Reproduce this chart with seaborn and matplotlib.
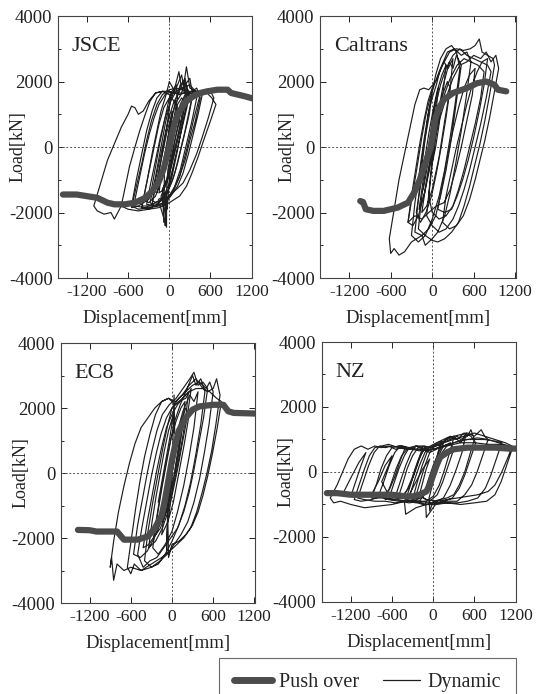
import matplotlib
matplotlib.use("Agg")
import matplotlib.pyplot as plt
import seaborn as sns
import pandas as pd
from matplotlib.lines import Line2D

sns.set_style("ticks")
plt.rcParams['font.family'] = ['Liberation Serif', 'DejaVu Serif']
plt.rcParams['axes.unicode_minus'] = False

panels = ["JSCE", "Caltrans", "EC8", "NZ"]
x_ticks = [-1200, -600, 0, 600, 1200]
y_ticks = [-4000, -2000, 0, 2000, 4000]

# ---------------- push-over curves ----------------
jsce_push = [(-1550,-1450),(-1350,-1450),(-1200,-1500),(-1050,-1550),(-900,-1700),(-800,-1750),
             (-650,-1750),(-500,-1700),(-350,-1550),(-250,-1350),(-150,-1050),(-80,-650),(-20,-150),
             (30,300),(80,750),(150,1100),(250,1400),(350,1550),(450,1650),(550,1700),(700,1750),
             (850,1750),(900,1650),(1000,1600),(1100,1550),(1220,1480)]
caltrans_push = [(-1040,-1650),(-1000,-1680),(-960,-1900),(-850,-1950),(-700,-1950),(-500,-1850),
                 (-350,-1700),(-250,-1350),(-180,-1000),(-100,-500),(-20,0),(50,900),(100,1200),
                 (170,1450),(300,1650),(500,1800),(650,1950),(780,2000),(900,1900),(950,1750),(1070,1700)]
ec8_push = [(-1370,-1750),(-1200,-1760),(-1100,-1800),(-800,-1800),(-700,-2050),(-500,-2050),
            (-350,-1950),(-250,-1700),(-150,-1300),(-100,-800),(-50,-200),(0,400),(50,900),(100,1300),
            (200,1700),(300,1950),(400,2050),(600,2100),(750,2100),(820,1900),(900,1850),(1220,1830)]
nz_push = [(-1550,-650),(-1400,-650),(-1200,-700),(-1000,-700),(-800,-700),(-600,-700),(-400,-750),
           (-300,-750),(-200,-700),(-100,-600),(-50,-400),(0,-100),(50,200),(100,450),(200,600),
           (300,700),(500,750),(700,750),(900,750),(1100,720),(1210,720)]

# ---------------- dynamic hysteresis traces ----------------
jsce_dyn_a = [(0,0),(60,700),(120,1300),(180,1500),(220,1400),(150,600),(60,-300),(-20,-1000),(-80,-1300),
    (-150,-1400),(-100,-600),(-30,200),(40,900),(100,1500),(160,1900),(200,1700),(260,1800),(300,1600),
    (200,700),(100,-200),(0,-1100),(-100,-1600),(-200,-1800),(-280,-1700),(-200,-900),(-120,0),(-50,800),
    (20,1400),(80,1800),(140,2300),(170,1900),(230,2100),(280,1600),(200,800),(120,-100),(40,-900),
    (-40,-1500),(-60,-2400),(-50,-1400),(-150,-1700),(-300,-1900),(-400,-1850),(-320,-1000),(-250,-200),
    (-180,500),(-120,1100),(-60,1500),(-10,1900),(0,2000),(80,1700),(200,1800),(300,1900),(380,1700),
    (450,1600),(350,800),(250,-100),(150,-900),(50,-1400),(-50,-1700),(-150,-1800),(-300,-1850),
    (-450,-1900),(-550,-1800),(-480,-1000),(-400,-200),(-330,500),(-250,1100),(-180,1500),(-100,1700),
    (0,1700),(150,1600),(300,1700),(450,1700),(550,1650),(620,1500),(680,1300),(600,800),(500,200),
    (420,-300),(330,-800),(250,-1200),(150,-1500),(0,-1700),(-150,-1850),(-300,-1900),(-450,-1950),
    (-600,-1900),(-700,-1800),(-640,-1200),(-580,-600),(-500,0),(-430,500),(-350,1000),(-280,1400),
    (-200,1650),(-100,1700),(100,1650),(250,1650),(400,1650),(500,1700),(600,1700),(650,1500),(570,900),
    (480,300),(400,-200),(300,-700),(200,-1100),(100,-1300),(0,-1500),(-100,-1600),(-200,-1700),
    (-350,-1850),(-500,-1800),(-600,-1700),(-700,-1800),(-800,-2200),(-850,-2000),(-950,-2050),
    (-1050,-1950),(-1100,-1800),(-1000,-1100),(-900,-400),(-820,0),(-700,600),(-600,1000),(-550,1250),
    (-500,1200),(-450,1000),(-380,1100),(-300,1400),(-200,1650),(-100,1700),(0,1600),(100,1300),
    (150,800),(80,200),(20,-400),(-40,-1000),(-100,-1300),(-80,-2300),(-70,-700),(-30,0),(0,600),
    (40,1100),(20,300),(0,0)]
jsce_dyn_b = [(0,0),(-100,-900),(-200,-1500),(-300,-1700),(-380,-1600),(-300,-800),(-220,0),(-150,700),
    (-80,1200),(0,1500),(100,1800),(180,2200),(220,1700),(300,1500),(350,1700),(280,900),(200,200),
    (120,-500),(50,-1000),(-30,-1400),(-120,-1600),(-250,-1750),(-200,-1000),(-130,-300),(-60,400),
    (10,1000),(70,1400),(130,1600),(200,2000),(250,1600),(180,700),(100,0),(30,-600),(-40,-1100),
    (-120,-1500),(-60,-2000),(-20,-700),(40,0),(100,700),(160,1300),(230,1600),(320,1650),(400,1500),
    (320,700),(240,0),(160,-700),(80,-1200),(0,-1500),(-90,-1700),(-180,-1800),(-380,-1800),(-500,-1600),
    (-430,-900),(-360,-200),(-290,400),(-220,900),(-150,1300),(-60,1600),(40,1700),(100,1900),(120,1500),
    (60,800),(0,200),(-60,-400),(-120,-1000),(-180,-1400),(-260,-1300),(-200,-600),(-140,100),
    (-80,700),(-20,1300),(30,1700),(-10,1000),(-60,300),(-110,-300),(-160,-900)]
jsce_dyn_c = [(0,0),(-150,-1000),(-300,-1600),(-450,-1800),(-550,-1850),(-480,-1200),(-400,-500),
    (-330,200),(-260,800),(-180,1300),(-100,1600),(0,1750),(100,1800),(200,1750),(250,2450),(300,1800),
    (400,1700),(480,1600),(420,1000),(350,400),(280,-200),(200,-800),(120,-1200),(20,-1500),(-80,-1700),
    (-200,-1800),(-330,-1750),(-270,-1100),(-200,-400),(-130,300),(-60,900),(20,1400),(100,1700),
    (200,1800),(300,2100),(330,1700),(400,1800),(450,1500),(380,800),(300,200),(230,-400),(150,-900),
    (60,-1300),(-40,-1600),(-40,-2450),(-140,-1750),(-240,-1650),(-170,-900),(-100,-200),(-30,500),
    (40,1000),(110,1400),(170,1600),(230,2000),(260,1600),(190,900),(120,300),(50,-300),(-20,-900),
    (-100,-1300),(-30,-1900),(0,-1000),(40,-300),(100,400),(160,1000),(220,1500),(280,1700),(340,1600),
    (280,1000),(220,400),(150,-200),(80,-800),(10,-1200),(-70,-1500),(-160,-1600)]

caltrans_dyn_a = [(0,0),(80,900),(150,1600),(220,2000),(260,1800),(180,800),(100,-300),(0,-1300),
    (-80,-1800),(-150,-2000),(-80,-1000),(0,0),(80,1000),(160,1900),(250,2600),(300,2400),(350,2800),
    (420,2500),(350,1400),(280,300),(200,-700),(120,-1500),(50,-2100),(-50,-2500),(-150,-2700),
    (-250,-2600),(-200,-1600),(-150,-600),(-100,300),(-50,1100),(0,1700),(50,2200),(120,2700),
    (200,3000),(280,3100),(350,2900),(400,2400),(330,1300),(260,300),(180,-700),(100,-1500),(0,-2200),
    (-100,-2700),(-200,-2900),(-300,-2700),(-250,-1700),(-180,-700),(-120,200),(-60,1000),(0,1500),
    (60,1900),(120,2400),(220,2900),(320,3000),(420,2800),(500,2900),(560,2600),(490,1500),(420,500),
    (340,-500),(260,-1400),(180,-2100),(80,-2600),(0,-2800),(-100,-3000),(-150,-2700),(-300,-2900),
    (-400,-3200),(-480,-3300),(-550,-3100),(-600,-3250),(-620,-2800),(-550,-1900),(-480,-1000),
    (-400,-200),(-320,600),(-250,1300),(-180,1750),(-120,1800),(-50,1750),(50,2000),(150,2500),
    (250,2900),(350,3000),(450,2950),(550,3000),(620,3100),(680,3300),(720,2900),(800,2800),(880,2700),
    (900,2500),(830,1600),(760,800),(690,100),(620,-500),(540,-1200),(460,-1800),(380,-2300),
    (280,-2600),(180,-2800),(80,-2900),(0,-2850),(-100,-2700),(-200,-2500),(-150,-1500),(-80,-500),
    (-20,400),(40,1200),(120,1900),(200,2400),(300,2800),(400,3000),(500,2800),(600,2700),(700,2600),
    (800,2500),(850,2300),(780,1500),(700,700),(620,0),(540,-700),(460,-1300),(380,-1800),(300,-2200),
    (200,-2500),(100,-2600),(0,-2400),(-80,-2100),(-30,-1000),(20,0),(80,800),(160,1500),(260,2100),
    (360,2500),(460,2700),(560,2600),(660,2500),(750,2300),(700,1500),(620,700),(540,0),(460,-700),
    (380,-1300),(300,-1800),(200,-2100),(100,-2200),(0,-2000),(-50,-1500),(0,-500),(50,300),(100,1000),
    (150,1500),(100,700),(50,0),(0,-500),(0,0)]
caltrans_dyn_b = [(0,0),(100,800),(200,1500),(300,2100),(400,2500),(500,2600),(600,2800),(700,2700),
    (780,2900),(850,2600),(920,2800),(960,2400),(900,1700),(830,900),(760,200),(690,-400),(620,-1000),
    (540,-1600),(450,-2100),(350,-2400),(250,-2500),(150,-2300),(200,-1500),(270,-800),(340,-100),
    (420,600),(500,1300),(580,1900),(650,2300),(720,2600),(800,2700),(750,1900),(680,1100),(600,300),
    (520,-400),(440,-1000),(360,-1500),(280,-1900),(180,-2000),(80,-1900),(150,-1100),(220,-300),
    (300,500),(380,1200),(460,1800),(540,2200),(620,2400),(580,1600),(500,800),(420,0),(340,-700),
    (260,-1300),(170,-1700),(60,-1800),(-50,-2000),(-150,-2200),(-250,-2100),(-350,-2300),(-300,-1500),
    (-240,-700),(-180,100),(-120,800),(-60,1400),(0,1800),(-40,1000),(-100,300),(-160,-500),(-220,-1300)]
caltrans_dyn_c = [(0,0),(-60,-800),(-120,-1500),(-200,-2100),(-280,-2400),(-350,-2300),(-280,-1400),
    (-210,-500),(-150,300),(-90,1000),(-30,1500),(30,1900),(100,2300),(170,2600),(230,2400),(300,2700),
    (260,1800),(200,900),(130,0),(60,-800),(-10,-1500),(-90,-2000),(-170,-2300),(-230,-2000),
    (-170,-1200),(-110,-400),(-50,400),(10,1100),(70,1700),(140,2200),(200,2500),(160,1700),(100,900),
    (30,100),(-40,-700),(-110,-1400),(-190,-1900),(-130,-1000),(-70,-200),(-10,600),(40,1300),(90,1800),
    (50,1000),(-10,200),(-70,-600),(-130,-1300)]

ec8_dyn_a = [(0,0),(60,800),(120,1500),(200,2000),(250,1800),(180,900),(100,0),(20,-900),(-60,-1500),
    (-150,-1900),(-100,-1000),(-40,-200),(20,600),(80,1300),(160,1900),(260,2400),(320,2200),(380,2500),
    (320,1400),(250,500),(170,-400),(80,-1200),(0,-1800),(-100,-2200),(-200,-2500),(-280,-2300),
    (-220,-1400),(-150,-500),(-80,300),(-20,1000),(40,1600),(120,2100),(220,2600),(300,3000),(350,2700),
    (420,2900),(480,2500),(420,1500),(350,600),(270,-300),(190,-1000),(100,-1600),(0,-2100),(-100,-2500),
    (-200,-2800),(-300,-2900),(-400,-2700),(-350,-1800),(-280,-900),(-200,0),(-130,800),(-60,1500),
    (0,2000),(100,2300),(200,2500),(300,2700),(400,2800),(500,2600),(550,2800),(600,2500),(540,1500),
    (470,600),(400,-200),(320,-900),(230,-1500),(130,-1900),(30,-2200),(-70,-2500),(-170,-2700),
    (-300,-2900),(-450,-3000),(-550,-2800),(-600,-3100),(-650,-2900),(-590,-2000),(-530,-1100),
    (-470,-300),(-400,500),(-320,1200),(-240,1800),(-150,2200),(-50,2300),(50,2200),(150,2400),
    (250,2700),(350,2900),(450,2600),(520,2500),(600,2600),(650,2900),(700,2400),(640,1500),(580,700),
    (510,0),(440,-600),(360,-1200),(270,-1700),(170,-2000),(70,-2200),(-30,-2400),(-150,-2600),
    (-300,-2800),(-450,-3000),(-600,-2900),(-700,-3000),(-800,-2800),(-850,-3300),(-880,-2600),
    (-900,-2900),(-850,-2100),(-780,-1200),(-700,-400),(-620,300),(-540,900),(-450,1400),(-350,1700),
    (-250,2000),(-150,2200),(-50,2300),(50,2100),(150,2300),(250,2500),(350,2600),(450,2600),(550,2500),
    (650,2300),(720,2200),(660,1400),(590,600),(520,-100),(450,-700),(380,-1200),(300,-1600),
    (200,-1900),(100,-2100),(0,-2200),(-50,-2600),(-60,-1500),(0,-600),(50,200),(100,900),(150,1400),
    (100,600),(50,0),(0,0)]
ec8_dyn_b = [(0,0),(-80,-800),(-160,-1500),(-260,-2000),(-360,-2400),(-460,-2600),(-560,-2500),
    (-500,-1600),(-430,-800),(-360,0),(-290,700),(-220,1300),(-140,1800),(-40,2100),(60,2300),
    (160,2600),(260,2900),(320,3100),(380,2700),(450,2800),(520,2600),(460,1700),(390,900),(320,100),
    (250,-600),(170,-1200),(80,-1700),(-20,-2000),(-120,-2300),(-220,-2600),(-320,-2700),(-420,-2900),
    (-500,-2500),(-440,-1700),(-370,-900),(-300,-100),(-230,600),(-160,1200),(-80,1700),(0,2000),
    (100,2200),(200,2300),(280,2600),(220,1700),(150,900),(80,100),(10,-600),(-60,-1200),(-140,-1700),
    (-240,-2100),(-340,-2300),(-290,-1500),(-230,-700),(-170,0),(-110,700),(-50,1300),(20,1800),
    (-30,1100),(-90,400),(-150,-300),(-200,-900)]
ec8_dyn_c = [(0,0),(-60,-700),(-140,-1400),(-240,-1900),(-340,-2200),(-420,-2300),(-360,-1500),
    (-290,-700),(-220,100),(-150,800),(-80,1400),(0,1800),(80,2100),(160,2300),(240,2500),(200,1700),
    (140,900),(70,100),(0,-600),(-80,-1200),(-170,-1700),(-270,-2000),(-210,-1200),(-150,-400),(-80,400),
    (-10,1100),(60,1600),(130,2000),(190,2200),(150,1400),(90,600),(20,-200),(-50,-900),(-130,-1500),
    (-60,-700),(0,0),(60,800),(110,1400),(60,700),(0,0),(-50,-600),(-80,-2500),(-60,-1000),(0,-200),
    (30,2400),(40,1200)]

nz_dyn_a = [(0,0),(80,500),(150,800),(250,900),(300,700),(220,200),(140,-300),(60,-700),(-50,-900),
    (-150,-800),(-80,-300),(0,200),(80,600),(180,1000),(300,1100),(400,900),(480,1200),(420,600),
    (340,100),(250,-400),(150,-800),(50,-900),(-100,-1000),(-250,-900),(-350,-800),(-280,-300),
    (-200,200),(-120,600),(-40,800),(50,900),(150,1000),(250,1100),(350,1000),(450,1200),(550,1100),
    (620,900),(540,400),(460,-100),(380,-500),(280,-800),(150,-900),(0,-1000),(-150,-1000),(-300,-900),
    (-450,-800),(-550,-750),(-480,-300),(-400,200),(-320,600),(-250,800),(-150,800),(0,750),(100,900),
    (200,1000),(300,1100),(400,1150),(500,1200),(600,1100),(700,1300),(750,1100),(800,1000),(720,500),
    (640,0),(560,-400),(460,-700),(350,-900),(200,-900),(50,-950),(-100,-1400),(-110,-900),(-250,-900),
    (-400,-900),(-550,-850),(-700,-800),(-800,-750),(-720,-300),(-640,200),(-560,600),(-480,800),
    (-400,750),(-300,700),(-200,700),(-100,650),(0,700),(150,800),(300,900),(450,1000),(600,1000),
    (750,1000),(900,950),(1000,900),(920,400),(840,-100),(760,-500),(650,-800),(500,-900),(350,-950),
    (200,-950),(50,-1000),(-100,-1000),(-250,-1100),(-400,-1300),(-420,-900),(-550,-950),(-700,-900),
    (-850,-900),(-1000,-850),(-1100,-800),(-1020,-300),(-940,200),(-860,600),(-780,800),(-700,750),
    (-600,800),(-500,750),(-400,700),(-300,700),(-200,650),(-100,700),(0,700),(200,800),(400,900),
    (600,900),(800,850),(1000,850),(1100,800),(1150,700),(1070,200),(990,-300),(900,-700),(780,-900),
    (600,-950),(400,-1000),(200,-950),(0,-950),(-200,-900),(-400,-900),(-600,-1000),(-800,-1050),
    (-1000,-1100),(-1200,-1000),(-1350,-900),(-1450,-950),(-1500,-800),(-1400,-400),(-1320,0),
    (-1240,400),(-1150,700),(-1050,800),(-950,700),(-850,800),(-750,750),(-650,800),(-550,700),
    (-450,750),(-350,700),(-250,800),(-150,700),(-50,600),(50,700),(150,900),(300,1000),(450,1100),
    (600,1200),(750,1100),(900,1000),(1050,900),(1150,800),(1100,500),(1000,0),(900,-400),(800,-600),
    (650,-700),(500,-750),(350,-800),(200,-850),(50,-900),(-100,-850),(-200,-700),(-150,-300),
    (-100,100),(-50,400),(-150,100),(-250,-300),(-350,-700),(-500,-750),(-650,-700),(-750,-300),
    (-650,200),(-600,500),(-700,200),(-800,-300),(-900,-700),(-1050,-750),(-1200,-750),(-1130,-300),
    (-1050,200),(-980,600),(-1080,300),(-1180,-100),(-1300,-600),(-1450,-700),(-1520,-600)]
nz_dyn_b = [(0,0),(-100,-500),(-200,-800),(-300,-850),(-230,-300),(-160,200),(-90,600),(0,800),
    (100,850),(50,400),(-20,-100),(-100,-600),(-200,-900),(-350,-950),(-500,-900),(-650,-850),
    (-580,-400),(-500,100),(-420,500),(-350,750),(-250,800),(-150,750),(-230,300),(-310,-200),
    (-390,-600),(-480,-800),(-600,-850),(-750,-800),(-900,-800),(-830,-400),(-760,100),(-680,500),
    (-600,750),(-500,800),(-400,780),(-480,350),(-560,-150),(-640,-550),(-760,-750),(-900,-850),
    (-1050,-900),(-1150,-850),(-1080,-400),(-1000,100),(-930,500),(-850,750),(-750,800),(-650,850),
    (-550,780),(-450,800),(-350,750),(-250,700),(-150,700),(-50,750),(50,800),(150,900),(250,1000),
    (350,1100),(400,1000),(500,1100),(550,1300),(600,1000),(530,500),(460,0),(380,-400),(300,-700),
    (200,-800),(100,-850),(0,-900),(-50,-1200),(-60,-800),(0,-300),(60,200),(130,600),(200,800),
    (300,900),(400,950),(500,1000),(650,1050),(800,1000),(950,900),(1100,800),(1180,700)]
nz_dyn_c = [(0,0),(-80,-400),(-160,-700),(-260,-800),(-190,-300),(-120,200),(-50,600),(30,850),
    (120,950),(60,500),(-10,0),(-90,-500),(-180,-800),(-300,-900),(-400,-850),(-330,-400),(-260,100),
    (-190,500),(-110,750),(-20,800),(80,850),(200,950),(300,1050),(240,600),(170,100),(90,-400),
    (0,-750),(-100,-900),(-250,-950),(-380,-900),(-520,-850),(-450,-400),(-380,100),(-300,500),
    (-220,750),(-120,800),(-200,400),(-280,-100),(-360,-500),(-450,-750),(-600,-800),(-700,-850),
    (-620,-400),(-540,100),(-460,500),(-380,700),(-300,750)]

push_data = {"JSCE": jsce_push, "Caltrans": caltrans_push, "EC8": ec8_push, "NZ": nz_push}
dyn_data = {"JSCE": [jsce_dyn_a, jsce_dyn_b, jsce_dyn_c],
            "Caltrans": [caltrans_dyn_a, caltrans_dyn_b, caltrans_dyn_c],
            "EC8": [ec8_dyn_a, ec8_dyn_b, ec8_dyn_c],
            "NZ": [nz_dyn_a, nz_dyn_b, nz_dyn_c]}

fig = plt.figure(figsize=(5.38, 6.94), dpi=100)
positions = {
    "JSCE": [0.108, 0.5994, 0.361, 0.3775],
    "Caltrans": [0.595, 0.5994, 0.364, 0.3775],
    "EC8": [0.113, 0.1311, 0.361, 0.3746],
    "NZ": [0.5985, 0.1326, 0.361, 0.3746],
}
ylabel_x = {"JSCE": -0.165, "Caltrans": -0.128, "EC8": -0.16, "NZ": -0.139}
line_col = "#1e1e1e"
push_col = "#4c4c4c"
text_col = "#222222"

for name in panels:
    ax = fig.add_axes(positions[name])
    ax.axhline(0, color="#555555", lw=0.7, ls=(0, (2, 2)), zorder=1)
    ax.axvline(0, color="#555555", lw=0.7, ls=(0, (2, 2)), zorder=1)
    for seg in dyn_data[name]:
        dyn = pd.DataFrame(seg, columns=["x", "y"])
        sns.lineplot(data=dyn, x="x", y="y", sort=False, estimator=None, ax=ax,
                     color=line_col, lw=0.85, zorder=2)
    push = pd.DataFrame(push_data[name], columns=["x", "y"])
    sns.lineplot(data=push, x="x", y="y", sort=False, estimator=None, ax=ax,
                 color=push_col, lw=4.5, zorder=3)
    ax.set_xlim(-1620, 1210)
    ax.set_ylim(-4000, 4000)
    ax.set_xticks(x_ticks)
    ax.set_yticks(y_ticks)
    ax.set_yticks([-3000, -1000, 1000, 3000], minor=True)
    ax.tick_params(direction="in", top=True, right=True, length=4, width=0.7,
                   colors=text_col)
    ax.tick_params(axis="x", labelsize=12.5, pad=4.5)
    ax.tick_params(axis="y", labelsize=13.5, pad=4)
    ax.tick_params(which="minor", direction="in", right=True, left=True, length=2.5, width=0.7)
    for s in ax.spines.values():
        s.set_linewidth(0.8)
        s.set_color("#444444")
    ax.set_xlabel("Displacement[mm]", fontsize=13.5, color=text_col, labelpad=7)
    ax.set_ylabel("Load[kN]", fontsize=13, color=text_col)
    ax.yaxis.set_label_coords(ylabel_x[name], 0.5)
    ax.text(0.07, 0.92, name, transform=ax.transAxes, fontsize=16, va="top", ha="left",
            color=text_col)

handles = [Line2D([], [], color=push_col, lw=5), Line2D([], [], color=line_col, lw=0.9)]
leg = fig.legend(handles, ["Push over", "Dynamic"], loc="upper right",
                 bbox_to_anchor=(0.959, 0.052), borderaxespad=0, ncol=2, fontsize=14.5,
                 frameon=True, fancybox=False, edgecolor="#444444", handlelength=1.85,
                 columnspacing=1.2, borderpad=0.75, handletextpad=0.35)
leg.get_frame().set_linewidth(0.8)

fig.savefig("out.png", dpi=100)
